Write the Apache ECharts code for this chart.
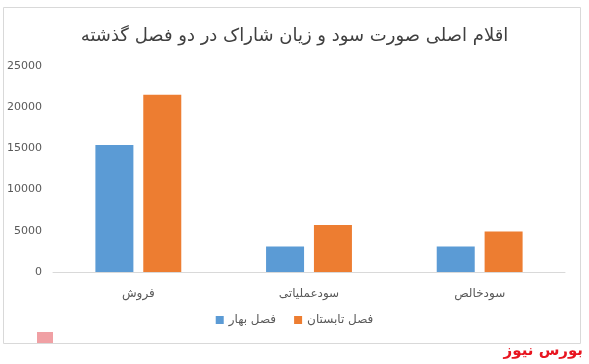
<!DOCTYPE html>
<html><head><meta charset="utf-8">
<script src="https://cdn.jsdelivr.net/npm/echarts@6/dist/echarts.min.js"></script>
<style>html,body{margin:0;padding:0;background:#fff}#c{width:589px;height:364px}</style>
</head><body><div id="c"></div>
<script>
const categories = ['فروش', 'سودعملیاتی', 'سودخالص'];
const springValues = [15400, 3100, 3100];
const summerValues = [21500, 5700, 4900];
const seriesNames = ['فصل بهار', 'فصل تابستان'];
const titleText = 'اقلام اصلی صورت سود و زیان شاراک در دو فصل گذشته';
const watermarkText = 'بورس نیوز';

const chart = echarts.init(document.getElementById('c'), null, {renderer: 'canvas'});
const ff = 'DejaVu Sans';
chart.setOption({
  animation: false,
  textStyle: {fontFamily: ff},
  title: {text: titleText, left: 'center', top: 22,
    textStyle: {fontFamily: ff, fontSize: 18, fontWeight: 'normal', color: '#404040'}},
  legend: {data: seriesNames, bottom: 33, left: 'center', itemWidth: 8, itemHeight: 8, itemGap: 18,
    icon: 'rect', textStyle: {fontFamily: ff, fontSize: 12, color: '#595959'}},
  grid: {left: 53, right: 24, top: 66, bottom: 92},
  xAxis: {type: 'category', data: categories,
    axisLine: {lineStyle: {color: '#d9d9d9'}}, axisTick: {show: false},
    axisLabel: {color: '#595959', fontSize: 12, margin: 16, fontFamily: ff}},
  yAxis: {type: 'value', min: 0, max: 25000, interval: 5000,
    axisLine: {show: false}, axisTick: {show: false}, splitLine: {show: false},
    axisLabel: {color: '#595959', fontSize: 11, margin: 11, fontFamily: ff, formatter: v => String(v)}},
  series: [
    {name: seriesNames[0], type: 'bar', data: springValues, barWidth: 38, barGap: '26%', itemStyle: {color: '#5B9BD5'}},
    {name: seriesNames[1], type: 'bar', data: summerValues, barWidth: 38, barGap: '26%', itemStyle: {color: '#ED7D31'}}
  ],
  graphic: [
    {type: 'rect', shape: {x: 3.5, y: 7.5, width: 577, height: 336}, style: {fill: 'none', stroke: '#d9d9d9', lineWidth: 1}, silent: true},
    {type: 'text', right: 6, top: 344, style: {text: watermarkText, font: 'bold 15px "DejaVu Sans"', fill: '#e8141f'}},
    {type: 'rect', shape: {x: 37, y: 332, width: 16, height: 11}, style: {fill: '#f0a0a4'}, silent: true}
  ]
});
</script></body></html>
